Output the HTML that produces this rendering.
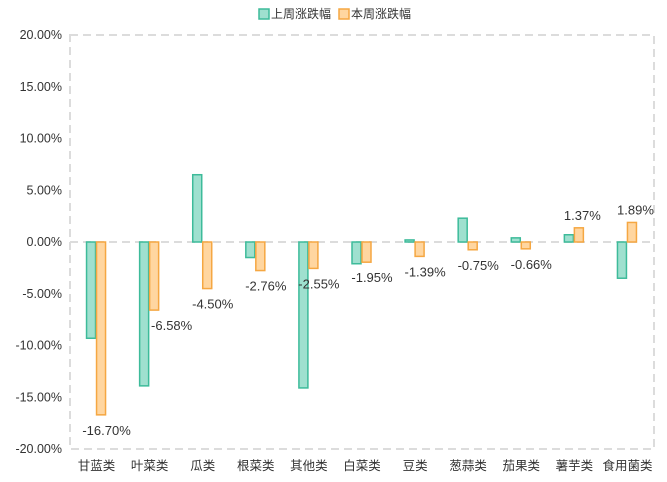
<!DOCTYPE html>
<html><head><meta charset="utf-8">
<style>
html,body{margin:0;padding:0;background:#fff;}
svg{display:block;font-family:"Liberation Sans","Noto Sans CJK SC",sans-serif;}
</style></head>
<body>
<svg id="chart" width="667" height="482" viewBox="0 0 667 482">
<g>
 <g>
  <rect x="259" y="9" width="10" height="10" fill="#9fe0cf" stroke="#3dbb9a" stroke-width="1.5"/>
  <text x="271" y="18" font-size="12" fill="#333">上周涨跌幅</text>
 </g>
 <g>
  <rect x="339" y="9" width="10" height="10" fill="#ffd6a0" stroke="#f5a742" stroke-width="1.5"/>
  <text x="351" y="18" font-size="12" fill="#333">本周涨跌幅</text>
 </g>
</g>
<g id="axes"></g>
<g id="bars"></g>
</svg>
<script>
const categories=["甘蓝类","叶菜类","瓜类","根菜类","其他类","白菜类","豆类","葱蒜类","茄果类","薯芋类","食用菌类"];
const lastWeek=[-9.3,-13.9,6.5,-1.5,-14.1,-2.1,0.2,2.3,0.4,0.7,-3.5];
const thisWeek=[-16.70,-6.58,-4.50,-2.76,-2.55,-1.95,-1.39,-0.75,-0.66,1.37,1.89];
const yTicks=[20,15,10,5,0,-5,-10,-15,-20];
const NS="http://www.w3.org/2000/svg";
const L=70,R=654,T=35,B=449,yMax=20,yMin=-20;
const y=v=>T+(yMax-v)/(yMax-yMin)*(B-T);
const bw=(R-L)/categories.length;
const xc=i=>L+bw*(i+0.5);
function mk(tag,attrs,parent){const e=document.createElementNS(NS,tag);for(const k in attrs)e.setAttribute(k,attrs[k]);parent.appendChild(e);return e;}
const ax=document.getElementById('axes'),bars=document.getElementById('bars');
const frame=mk('rect',{x:L,y:T,width:R-L,height:B-T,fill:'none',stroke:'#dcdcdc','stroke-width':2,'stroke-dasharray':'8,5'},ax);


const zl=mk('line',{x1:L,x2:R,y1:y(0),y2:y(0),stroke:'#dcdcdc','stroke-width':2,'stroke-dasharray':'8,5'},ax);


yTicks.forEach(t=>{
 const tx=mk('text',{x:L-8,y:y(t)+4,'text-anchor':'end','font-size':12.5,fill:'#333'},ax);
 tx.textContent=t.toFixed(2)+'%';
 
 
});
categories.forEach((c,i)=>{
 const tx=mk('text',{x:xc(i),y:470,'text-anchor':'middle','font-size':12.5,fill:'#333'},ax);
 tx.textContent=c;
 
 
 const w=9;
 const a=lastWeek[i],b=thisWeek[i];
 const r1=mk('rect',{x:xc(i)-w-1,y:Math.min(y(a),y(0)),width:w,height:Math.abs(y(a)-y(0)),fill:'#9fe0cf',stroke:'#3dbb9a','stroke-width':1.5},bars);
 
 
 const r2=mk('rect',{x:xc(i),y:Math.min(y(b),y(0)),width:w,height:Math.abs(y(b)-y(0)),fill:'#ffd6a0',stroke:'#f5a742','stroke-width':1.5},bars);
 
 
 const ly=b<0?y(b)+20:y(b)-8;
 const off=(i===1)?22:(b<0?10:8);
 const lb=mk('text',{x:xc(i)+off,y:ly,'text-anchor':'middle','font-size':13,fill:'#333'},bars);
 lb.textContent=b.toFixed(2)+'%';
 
 
});
</script>
</body></html>
